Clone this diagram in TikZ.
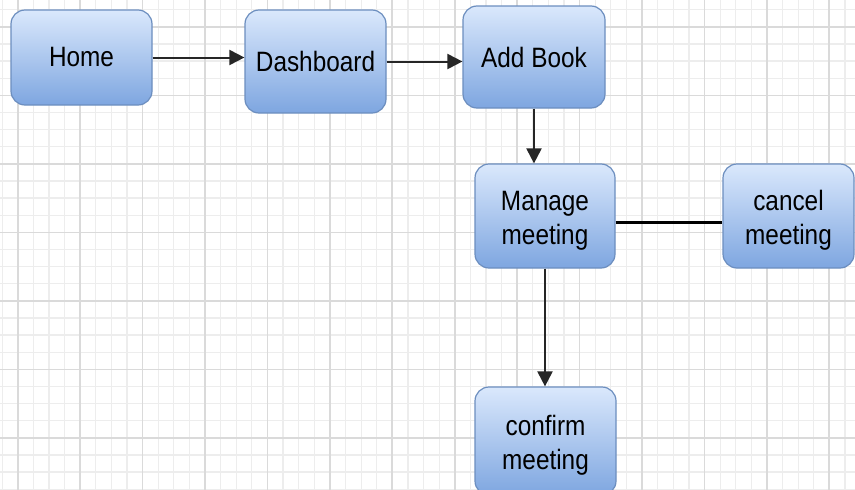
\documentclass[tikz,border=0pt]{standalone}
\usepackage{fontspec}
\setmainfont{Liberation Sans}[FakeStretch=0.87]
\usetikzlibrary{arrows.meta}
\definecolor{gridminor}{HTML}{EDEDED}
\definecolor{gridmajor}{HTML}{DADADA}
\definecolor{boxtop}{HTML}{DAE8FC}
\definecolor{boxbot}{HTML}{7EA6E0}
\definecolor{boxline}{HTML}{6C8EBF}
\newcommand{\lowstrut}{\rule{0pt}{28pt}}
\tikzset{
  flowbox/.style={draw=boxline, line width=1.2pt, rounded corners=14pt,
    top color=boxtop, bottom color=boxbot, inner sep=0pt, align=center,
    font=\fontsize{28}{34}\selectfont, text=black},
  flowarrow/.style={draw=black!85, line width=2pt, -{Triangle[length=15pt,width=15pt]}},
  flowline/.style={draw=black, line width=3pt}
}
\begin{document}
\begin{tikzpicture}[x=1pt,y=-1pt]
\useasboundingbox (0,0) rectangle (855,490);
\fill[white] (0,0) rectangle (855,490);
% grid
\foreach \i in {0,...,54} {
  \draw[gridminor, line width=1.2pt] ({2.1+15.61*\i},0) -- ({2.1+15.61*\i},490);
}
\foreach \i in {0,...,28} {
  \draw[gridminor, line width=1.2pt] (0,{9.7+17.125*\i}) -- (855,{9.7+17.125*\i});
}
\foreach \i in {0,...,13} {
  \draw[gridmajor, line width=1.6pt] ({17.7+62.43*\i},0) -- ({17.7+62.43*\i},490);
}
\foreach \i in {0,...,6} {
  \draw[gridmajor, line width=1.6pt] (0,{26.8+68.5*\i}) -- (855,{26.8+68.5*\i});
}
% boxes
\node[flowbox, minimum width=141pt, minimum height=95pt] (home) at (81.5,57.5) {Home};
\node[flowbox, minimum width=141pt, minimum height=103pt] (dash) at (315.5,61.5) {Dashboard};
\node[flowbox, minimum width=142pt, minimum height=102pt] (add) at (534,57) {Add Book};
\node[flowbox, minimum width=140pt, minimum height=104pt] (manage) at (545,216) {\lowstrut Manage\\meeting};
\node[flowbox, minimum width=131pt, minimum height=104pt] (cancel) at (788.5,216) {\lowstrut cancel\\meeting};
\node[flowbox, minimum width=141pt, minimum height=108pt] (confirm) at (545.5,441) {\lowstrut confirm\\meeting};
% connectors
\draw[flowarrow] (home.east) -- (home.east -| dash.west);
\draw[flowarrow] (dash.east) -- (dash.east -| add.west);
\draw[flowarrow] (add.south) -- (add.south |- manage.north);
\draw[flowarrow] (manage.south) -- (manage.south |- confirm.north);
\draw[flowline] ([yshift=-6pt]manage.east) -- ([yshift=-6pt]manage.east -| cancel.west);
\end{tikzpicture}
\end{document}
